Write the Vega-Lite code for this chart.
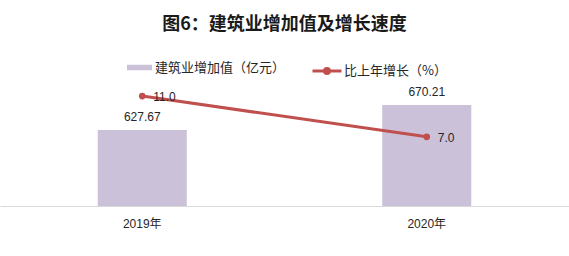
{
  "$schema": "https://vega.github.io/schema/vega-lite/v6.json",
  "width": 569,
  "height": 151,
  "autosize": "none",
  "padding": {"top": 55, "left": 0, "right": 0, "bottom": 50},
  "background": "white",
  "title": {
    "text": "图6：建筑业增加值及增长速度",
    "font": "Noto Sans CJK SC",
    "fontSize": 18,
    "fontWeight": "bold",
    "color": "#1a1a1a",
    "anchor": "middle",
    "frame": "group",
    "offset": 21
  },
  "config": {
    "view": {"stroke": null},
    "legend": {
      "labelFont": "Noto Sans CJK SC",
      "labelFontSize": 13,
      "labelColor": "#262626",
      "labelOffset": 3
    }
  },
  "data": {
    "values": [
      {"year": "2019年", "value": 627.67, "growth": 11.0, "s1": "建筑业增加值（亿元）", "s2": "比上年增长（%）"},
      {"year": "2020年", "value": 670.21, "growth": 7.0, "s1": "建筑业增加值（亿元）", "s2": "比上年增长（%）"}
    ]
  },
  "encoding": {
    "x": {
      "field": "year",
      "type": "nominal",
      "scale": {"paddingInner": 0, "paddingOuter": 0},
      "axis": {
        "title": null,
        "labelAngle": 0,
        "ticks": false,
        "domainColor": "#D9D9D9",
        "domainWidth": 1,
        "labelFont": "Liberation Sans, Noto Sans CJK SC",
        "labelFontSize": 12,
        "labelColor": "#262626",
        "labelPadding": 12
      }
    }
  },
  "layer": [
    {
      "encoding": {
        "y": {
          "field": "value",
          "type": "quantitative",
          "scale": {"domain": [498.3, 755.2], "zero": false, "nice": false},
          "axis": null
        }
      },
      "layer": [
        {
          "mark": {"type": "bar", "width": {"band": 0.313}, "clip": true},
          "encoding": {
            "fill": {
              "field": "s1",
              "type": "nominal",
              "scale": {"range": ["#CBC2DA"]},
              "legend": {
                "orient": "none",
                "legendX": 127,
                "legendY": 0,
                "title": null,
                "symbolType": "M-1,-0.22H1V0.22H-1Z",
                "symbolSize": 625,
                "symbolStrokeWidth": 0
              }
            }
          }
        },
        {
          "mark": {"type": "text", "baseline": "middle", "dy": -13, "font": "Liberation Sans", "fontSize": 12, "color": "#262626"},
          "encoding": {
            "text": {"field": "value", "type": "quantitative", "format": ".2f"}
          }
        }
      ]
    },
    {
      "encoding": {
        "y": {
          "field": "growth",
          "type": "quantitative",
          "scale": {"domain": [0.2, 15.04], "zero": false, "nice": false},
          "axis": null
        }
      },
      "layer": [
        {
          "mark": {"type": "line", "strokeWidth": 3},
          "encoding": {
            "stroke": {
              "field": "s2",
              "type": "nominal",
              "scale": {"range": ["#C0504D"]},
              "legend": {
                "orient": "none",
                "legendX": 311,
                "legendY": 0,
                "title": null,
                "symbolType": "M-1,0H1M-0.17,0A0.17,0.17,0,1,0,0.17,0A0.17,0.17,0,1,0,-0.17,0Z",
                "symbolSize": 841,
                "symbolStrokeWidth": 3,
                "symbolFillColor": "#C0504D",
                "labelOffset": 1,
                "encode": {"symbols": {"update": {"fill": {"value": "#C0504D"}}}}
              }
            }
          }
        },
        {
          "mark": {"type": "point", "filled": true, "size": 45, "color": "#C0504D", "opacity": 1},
          "encoding": {}
        },
        {
          "mark": {"type": "text", "align": "left", "baseline": "middle", "dx": 11, "dy": 1, "font": "Liberation Sans", "fontSize": 12, "color": "#262626"},
          "encoding": {
            "text": {"field": "growth", "type": "quantitative", "format": ".1f"}
          }
        }
      ]
    }
  ],
  "resolve": {"scale": {"y": "independent"}}
}
